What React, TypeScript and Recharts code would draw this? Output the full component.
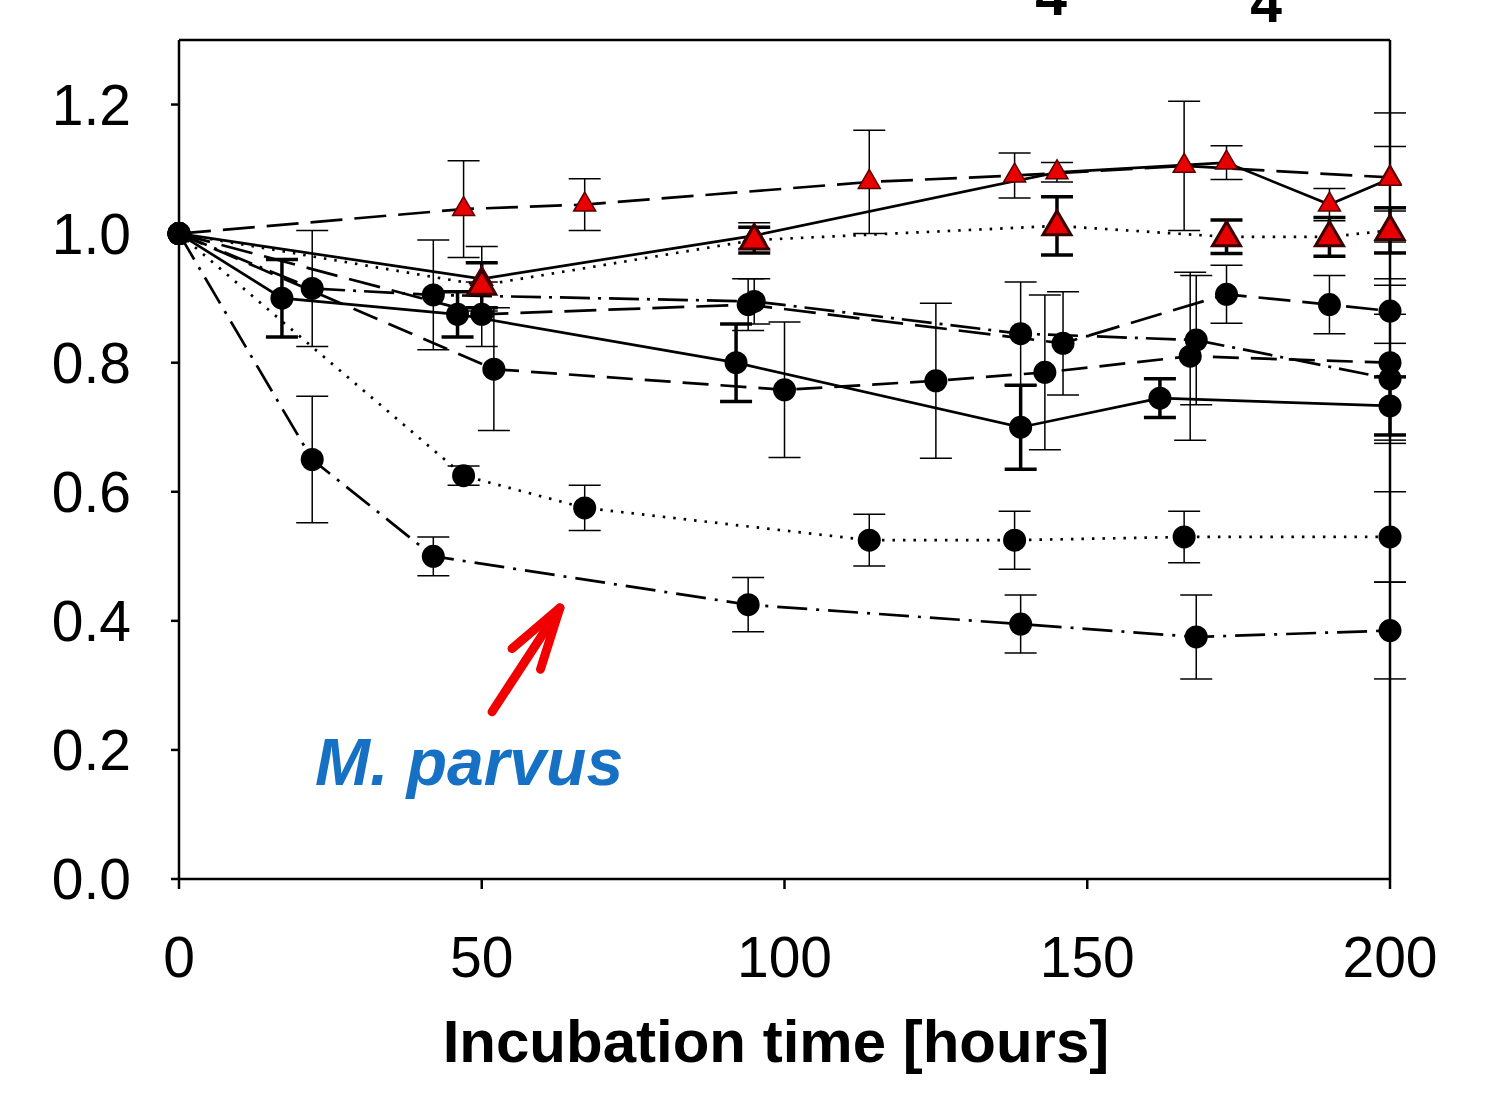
import React from 'react';
import { LineChart, Line, XAxis, YAxis, ErrorBar, ReferenceLine } from 'recharts';

// black circle series (hours, relative value, +/- error)
const hoursB1 = [0, 22, 42, 94, 139, 168, 200];
const valuesB1 = [1.0, 0.65, 0.5, 0.425, 0.395, 0.375, 0.385];
const errB1 = [0, 0.098, 0.03, 0.042, 0.045, 0.065, 0.075];

const hoursB2 = [0, 47, 67, 114, 138, 166, 200];
const valuesB2 = [1.0, 0.625, 0.575, 0.525, 0.525, 0.53, 0.53];
const errB2 = [0, 0.015, 0.035, 0.04, 0.045, 0.04, 0.07];

const hoursB3 = [0, 17, 46, 92, 139, 162, 200];
const valuesB3 = [1.0, 0.9, 0.875, 0.8, 0.7, 0.745, 0.733];
const errB3 = [0, 0.06, 0.035, 0.06, 0.065, 0.03, 0.045];

const hoursB4 = [0, 52, 100, 125, 143, 167, 200];
const valuesB4 = [1.0, 0.79, 0.758, 0.772, 0.785, 0.81, 0.8];
const errB4 = [0, 0.095, 0.105, 0.12, 0.12, 0.13, 0.12];

const hoursB5 = [0, 50, 94, 146, 173, 190, 200];
const valuesB5 = [1.0, 0.875, 0.89, 0.83, 0.906, 0.89, 0.88];
const errB5 = [0, 0.05, 0.04, 0.08, 0.045, 0.045, 0.05];

const hoursB6 = [0, 22, 42, 95, 139, 168, 200];
const valuesB6 = [1.0, 0.915, 0.905, 0.895, 0.845, 0.835, 0.775];
const errB6 = [0, 0.09, 0.085, 0.035, 0.08, 0.1, 0.1];

// red triangle series
const hoursRA = [0, 47, 67, 114, 138, 166, 200];
const valuesRA = [1.0, 1.038, 1.045, 1.08, 1.09, 1.105, 1.087];
const errRA = [0, 0.075, 0.04, 0.08, 0.035, 0.1, 0.1];

const hoursRB = [0, 50, 95, 145, 173, 190, 200];
const valuesRB = [1.0, 0.93, 0.997, 1.095, 1.11, 1.045, 1.085];
const errRB = [0, 0.05, 0.02, 0.015, 0.026, 0.025, 0.05];

const hoursRC = [0, 50, 95, 145, 173, 190, 200];
const valuesRC = [1.0, 0.92, 0.99, 1.012, 0.995, 0.995, 1.005];
const errRC = [0, 0.035, 0.02, 0.045, 0.026, 0.03, 0.035];

const xTicks = [0, 50, 100, 150, 200];
const yTicks = [0, 0.2, 0.4, 0.6, 0.8, 1.0, 1.2];

// annotation arrow, in data units (hours, value)
const arrowShaft = [{ x: 51.7, y: 0.259 }, { x: 62.9, y: 0.42 }];
const arrowWingA = [{ x: 55.0, y: 0.357 }, { x: 62.9, y: 0.42 }];
const arrowWingB = [{ x: 59.7, y: 0.325 }, { x: 62.9, y: 0.42 }];

const rows = (h: number[], v: number[], e: number[]) =>
  h.map((x, i) => ({ x, y: v[i], err: e[i] }));

const FONT = '"Liberation Sans", Arial, sans-serif';

const CircleDot = (props: any) => {
  const { cx, cy } = props;
  if (cx == null || cy == null) return null;
  return <circle cx={cx} cy={cy} r={11.5} fill="#000" />;
};

const makeTriangle = (big: boolean) => (props: any) => {
  const { cx, cy, payload } = props;
  if (cx == null || cy == null || payload?.x === 0) return null;
  const w = big ? 14 : 11;
  const up = big ? 15 : 12.5;
  const dn = big ? 9 : 6.5;
  const pts = `${cx},${cy - up} ${cx - w},${cy + dn} ${cx + w},${cy + dn}`;
  return <polygon points={pts} fill="#E80000" stroke={big ? '#3a0000' : '#5a0000'} strokeWidth={big ? 3 : 1.5} strokeLinejoin="miter" />;
};

const SmallTri = makeTriangle(false);
const BigTri = makeTriangle(true);

const series = [
  { key: 'b1', data: rows(hoursB1, valuesB1, errB1), dash: '30 9 3 9', thick: false, dot: CircleDot },
  { key: 'b2', data: rows(hoursB2, valuesB2, errB2), dash: '2.5 8', thick: false, dot: CircleDot },
  { key: 'b3', data: rows(hoursB3, valuesB3, errB3), dash: undefined, thick: true, dot: CircleDot },
  { key: 'b4', data: rows(hoursB4, valuesB4, errB4), dash: '26 12', thick: false, dot: CircleDot },
  { key: 'b5', data: rows(hoursB5, valuesB5, errB5), dash: '32 12', thick: false, dot: CircleDot },
  { key: 'b6', data: rows(hoursB6, valuesB6, errB6), dash: '30 8 3 8', thick: false, dot: CircleDot },
  { key: 'ra', data: rows(hoursRA, valuesRA, errRA), dash: '32 12', thick: false, dot: SmallTri },
  { key: 'rb', data: rows(hoursRB, valuesRB, errRB), dash: undefined, thick: false, dot: SmallTri },
  { key: 'rc', data: rows(hoursRC, valuesRC, errRC), dash: '2.5 8', thick: true, dot: BigTri },
];

export default function App() {
  return (
    <div style={{ position: 'absolute', left: 0, top: 0, width: 1499, height: 1097, background: '#fff', overflow: 'hidden' }}>
      <LineChart
        width={1499}
        height={1097}
        margin={{ top: 40, right: 109, bottom: 158, left: 59 }}
      >
        <XAxis
          type="number"
          dataKey="x"
          domain={[0, 200]}
          ticks={xTicks}
          allowDuplicatedCategory={false}
          height={60}
          stroke="#000"
          strokeWidth={2.5}
          tickSize={10}
          tickMargin={48}
          tick={{ fontSize: 57, fill: '#000', fontFamily: FONT }}
        />
        <YAxis
          type="number"
          domain={[0, 1.3]}
          ticks={yTicks}
          width={120}
          stroke="#000"
          strokeWidth={2.5}
          tickSize={8}
          tickMargin={40}
          tickFormatter={(v: number) => v.toFixed(1)}
          tick={{ fontSize: 57, fill: '#000', fontFamily: FONT }}
        />
        <ReferenceLine y={1.3} stroke="#000" strokeWidth={2.5} />
        <ReferenceLine x={200} stroke="#000" strokeWidth={2.5} />
        {series.map((s) => (
          <Line
            key={s.key}
            data={s.data}
            dataKey="y"
            type="linear"
            stroke="#000"
            strokeWidth={2.7}
            strokeDasharray={s.dash}
            dot={s.dot}
            activeDot={false}
            isAnimationActive={false}
          >
            <ErrorBar dataKey="err" direction="y" width={16} stroke="#000" strokeWidth={s.thick ? 3.5 : 1.5} />
          </Line>
        ))}
        <ReferenceLine segment={arrowShaft} stroke="#F00000" strokeWidth={9} strokeLinecap="round" />
        <ReferenceLine segment={arrowWingA} stroke="#F00000" strokeWidth={9} strokeLinecap="round" />
        <ReferenceLine segment={arrowWingB} stroke="#F00000" strokeWidth={9} strokeLinecap="round" />
      </LineChart>
      <svg width={1499} height={1097} style={{ position: 'absolute', left: 0, top: 0, pointerEvents: 'none' }}>
        <text x={776} y={1062} textAnchor="middle" fontSize={60} fontWeight="bold" fontFamily={FONT} fill="#000">
          Incubation time [hours]
        </text>
        <text x={1051} y={15} textAnchor="middle" fontSize={57} fontWeight="bold" fontFamily={FONT} fill="#000">4</text>
        <text x={1266} y={22} textAnchor="middle" fontSize={57} fontWeight="bold" fontFamily={FONT} fill="#000">4</text>
        <text x={315} y={785} fontSize={66} fontWeight="bold" fontStyle="italic" fontFamily={FONT} fill="#1670C4">
          M. parvus
        </text>
      </svg>
    </div>
  );
}
